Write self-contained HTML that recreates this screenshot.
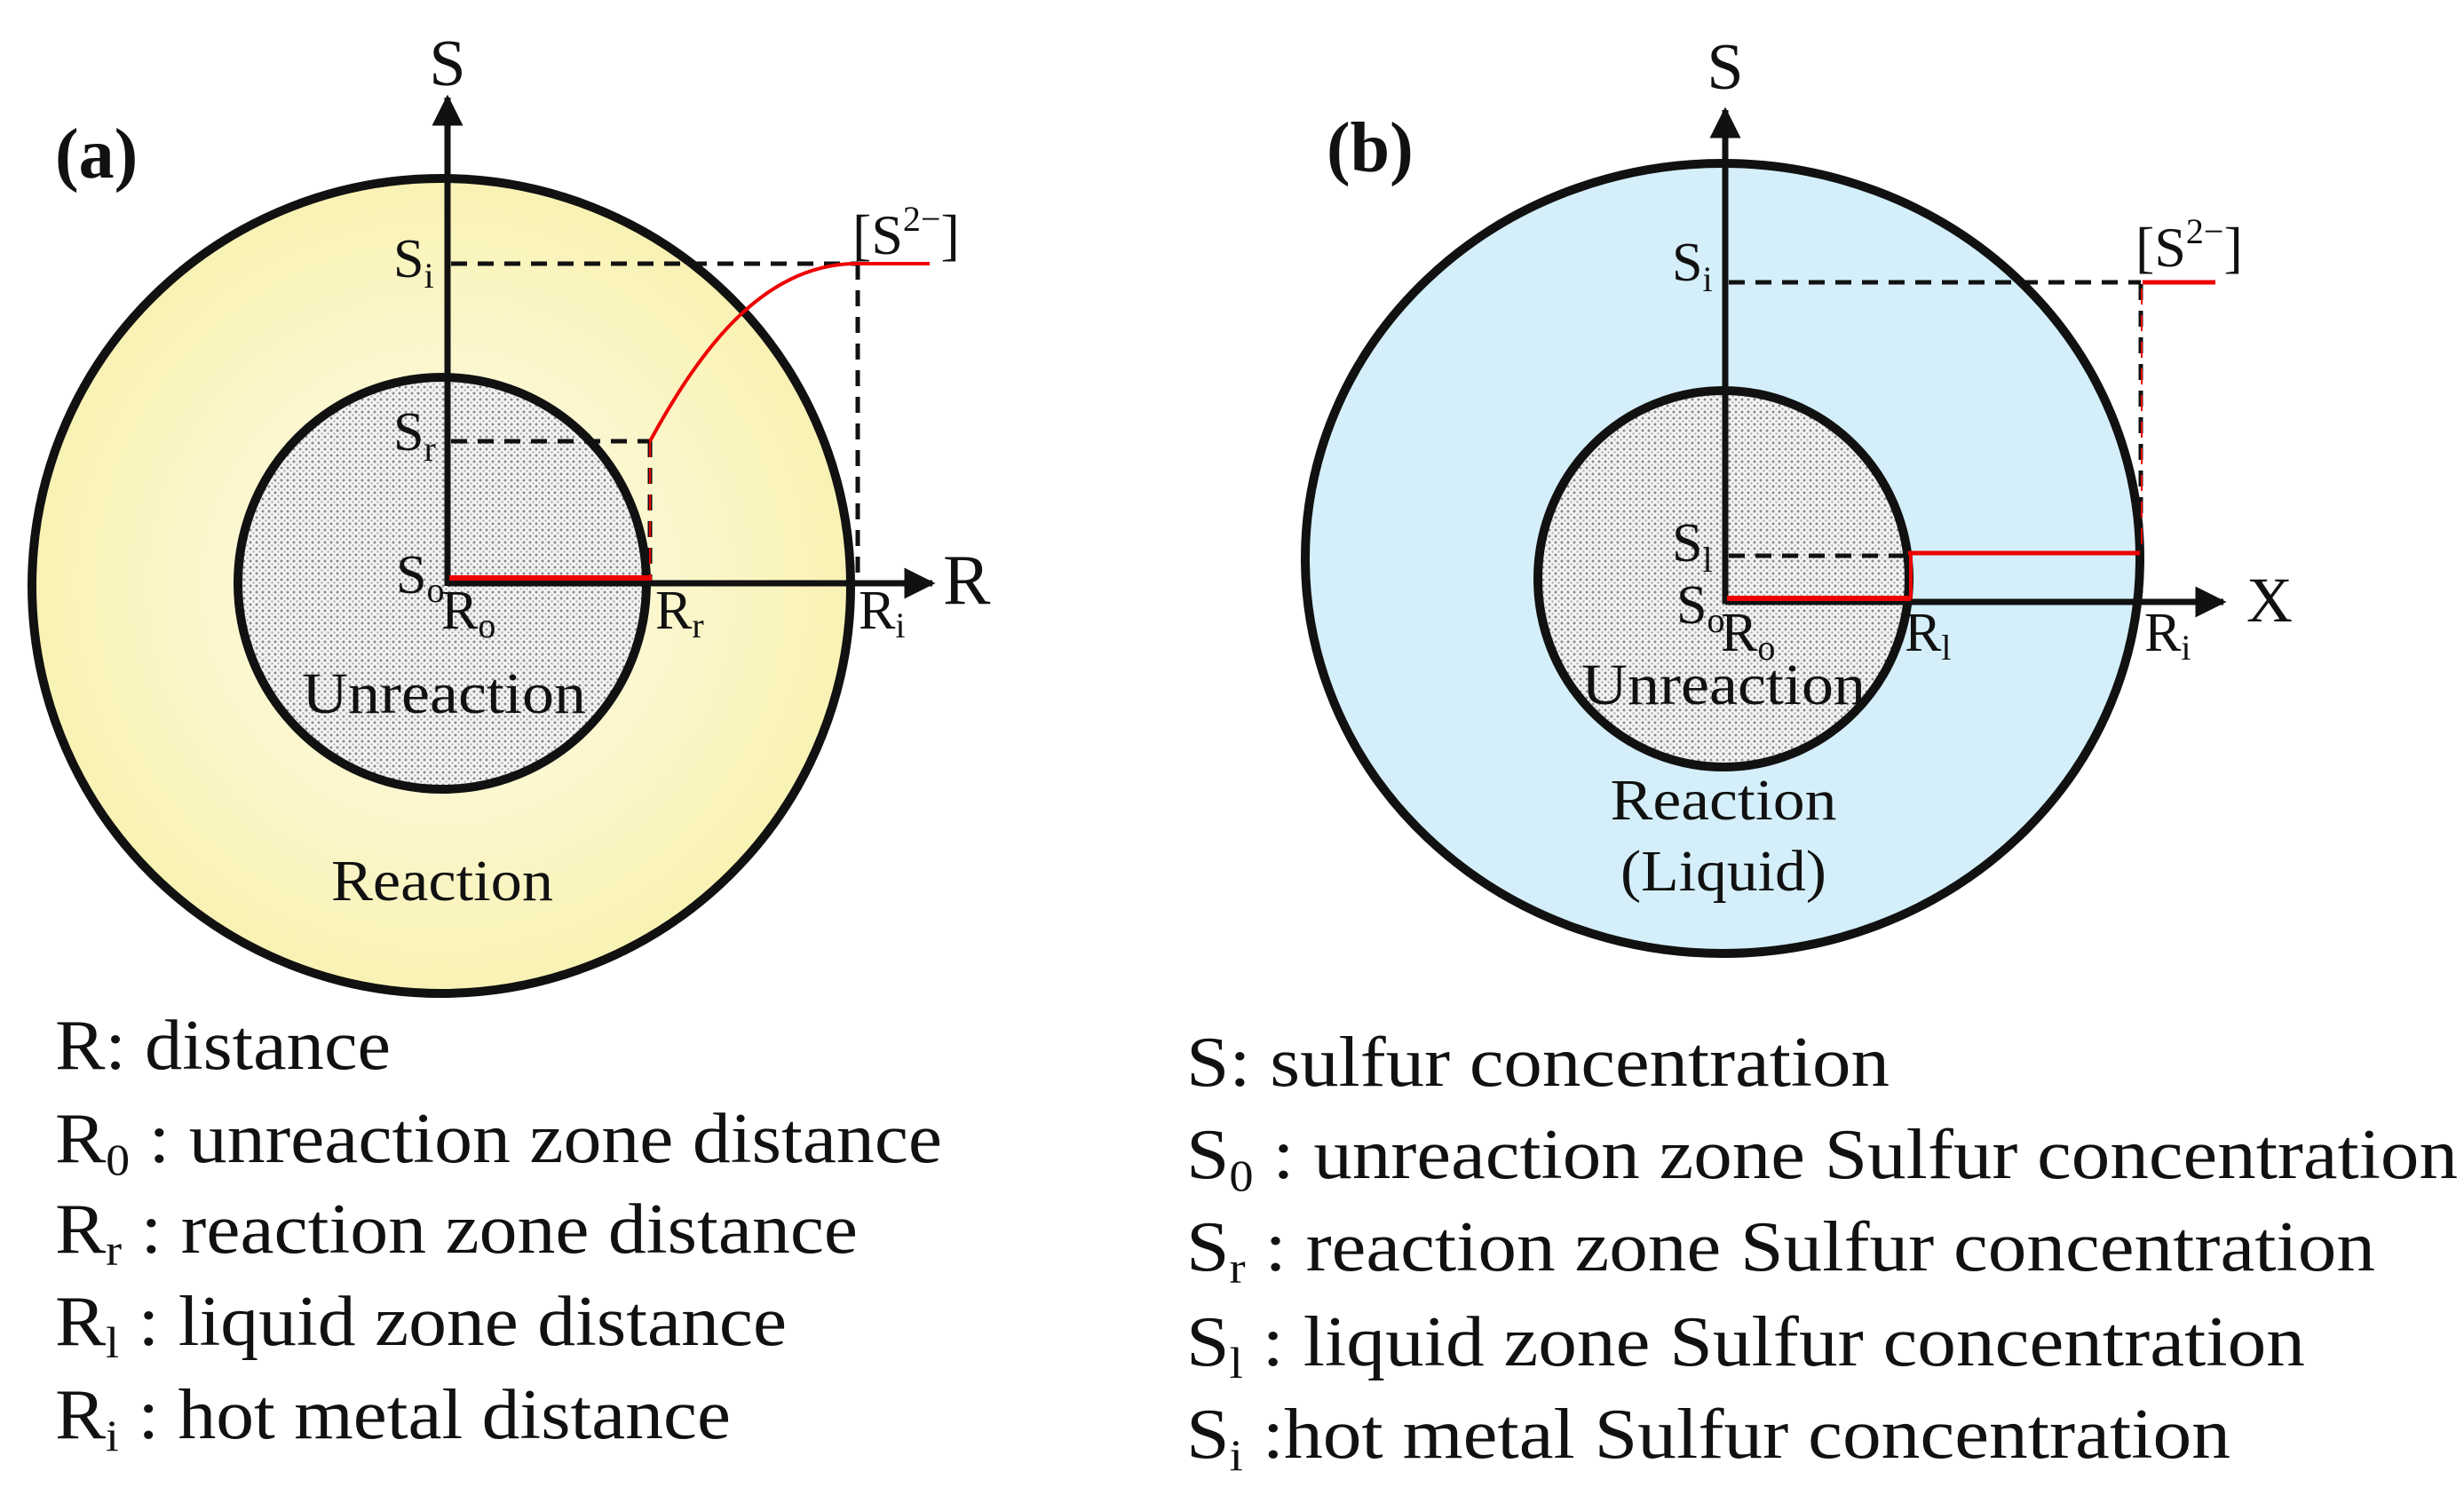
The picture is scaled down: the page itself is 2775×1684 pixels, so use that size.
<!DOCTYPE html>
<html><head><meta charset="utf-8"><style>
html,body{margin:0;padding:0;background:#fff;}
svg{display:block;}
text{font-family:"Liberation Serif",serif;fill:#111;}
</style></head><body>
<svg width="2775" height="1684" viewBox="0 0 2775 1684" xmlns="http://www.w3.org/2000/svg">
<defs>
<pattern id="dots" width="7" height="7" patternUnits="userSpaceOnUse">
<rect width="7" height="7" fill="#f4f4f4"/>
<circle cx="2" cy="2" r="1.5" fill="#8a8a8a"/>
<circle cx="5.5" cy="5.5" r="1.2" fill="#b0b0b0"/>
</pattern>
<radialGradient id="yel" cx="0.5" cy="0.5" r="0.5">
<stop offset="0" stop-color="#fefcec"/>
<stop offset="1" stop-color="#f9f2b4"/>
</radialGradient>
<marker id="ar" viewBox="0 0 10 10" refX="9" refY="5" markerWidth="5" markerHeight="5" orient="auto">
<path d="M0,0 L10,5 L0,10 z" fill="#111"/>
</marker>
</defs>

<!-- (a) -->
<ellipse cx="497" cy="660" rx="461" ry="459" fill="url(#yel)" stroke="#111" stroke-width="10"/>
<ellipse cx="498" cy="657" rx="230" ry="232" fill="url(#dots)" stroke="#111" stroke-width="10"/>
<line x1="504" y1="660" x2="504" y2="110" stroke="#111" stroke-width="7" marker-end="url(#ar)"/>
<line x1="504" y1="657" x2="1050" y2="657" stroke="#111" stroke-width="7" marker-end="url(#ar)"/>
<line x1="508" y1="297" x2="966" y2="297" stroke="#111" stroke-width="5" stroke-dasharray="18,12"/>
<line x1="966" y1="297" x2="966" y2="655" stroke="#111" stroke-width="5" stroke-dasharray="18,12"/>
<line x1="508" y1="497" x2="732" y2="497" stroke="#111" stroke-width="5" stroke-dasharray="18,12"/>
<line x1="732" y1="497" x2="732" y2="655" stroke="#111" stroke-width="5" stroke-dasharray="18,12"/>
<line x1="732" y1="497" x2="732" y2="652" stroke="#e00" stroke-width="2" stroke-dasharray="18,12"/>
<line x1="506" y1="651" x2="734" y2="651" stroke="#e00" stroke-width="6"/>
<path d="M732 497 C 790 390, 860 300, 960 297 L 1047 297" fill="none" stroke="#e00" stroke-width="4"/>
<text x="62" y="200" font-size="80" font-weight="bold">(a)</text>
<text x="504" y="96" font-size="74" text-anchor="middle">S</text>
<text x="1062" y="680" font-size="80">R</text>
<text x="960" y="286" font-size="64">[S<tspan font-size="40" dy="-26">2−</tspan><tspan dy="26">]</tspan></text>
<text x="443" y="312" font-size="62">S<tspan font-size="40" dy="12">i</tspan></text>
<text x="443" y="507" font-size="62">S<tspan font-size="40" dy="12">r</tspan></text>
<text x="446" y="668" font-size="62">S<tspan font-size="40" dy="10">o</tspan></text>
<text x="497" y="708" font-size="62">R<tspan font-size="40" dy="10">o</tspan></text>
<text x="738" y="708" font-size="62">R<tspan font-size="40" dy="10">r</tspan></text>
<text x="967" y="708" font-size="62">R<tspan font-size="40" dy="10">i</tspan></text>
<text x="500" y="803" font-size="66" text-anchor="middle" textLength="320" lengthAdjust="spacingAndGlyphs">Unreaction</text>
<text x="498" y="1014" font-size="66" text-anchor="middle" textLength="250" lengthAdjust="spacingAndGlyphs">Reaction</text>

<!-- (b) -->
<ellipse cx="1940" cy="629" rx="470" ry="445" fill="#d4effa" stroke="#111" stroke-width="10"/>
<ellipse cx="1941" cy="652" rx="209" ry="212" fill="url(#dots)" stroke="#111" stroke-width="10"/>
<line x1="1943" y1="680" x2="1943" y2="124" stroke="#111" stroke-width="7" marker-end="url(#ar)"/>
<line x1="1943" y1="678" x2="2504" y2="678" stroke="#111" stroke-width="7" marker-end="url(#ar)"/>
<line x1="1947" y1="318" x2="2411" y2="318" stroke="#111" stroke-width="5" stroke-dasharray="18,12"/>
<line x1="2411" y1="320" x2="2411" y2="676" stroke="#111" stroke-width="5" stroke-dasharray="18,12"/>
<line x1="2412" y1="325" x2="2412" y2="620" stroke="#e00" stroke-width="2" stroke-dasharray="18,12"/>
<line x1="2413" y1="318" x2="2495" y2="318" stroke="#e00" stroke-width="5"/>
<line x1="1947" y1="626" x2="2149" y2="626" stroke="#111" stroke-width="5" stroke-dasharray="18,12"/>
<line x1="2149" y1="623" x2="2410" y2="623" stroke="#e00" stroke-width="5"/>
<line x1="2152" y1="623" x2="2152" y2="675" stroke="#e00" stroke-width="4"/>
<line x1="1945" y1="674" x2="2152" y2="674" stroke="#e00" stroke-width="6"/>
<text x="1494" y="193" font-size="80" font-weight="bold">(b)</text>
<text x="1943" y="100" font-size="74" text-anchor="middle">S</text>
<text x="2530" y="700" font-size="72">X</text>
<text x="2405" y="300" font-size="64">[S<tspan font-size="40" dy="-26">2−</tspan><tspan dy="26">]</tspan></text>
<text x="1883" y="316" font-size="62">S<tspan font-size="40" dy="12">i</tspan></text>
<text x="1883" y="632" font-size="62">S<tspan font-size="40" dy="12">l</tspan></text>
<text x="1888" y="702" font-size="62">S<tspan font-size="40" dy="10">o</tspan></text>
<text x="1938" y="733" font-size="62">R<tspan font-size="40" dy="10">o</tspan></text>
<text x="2145" y="733" font-size="62">R<tspan font-size="40" dy="10">l</tspan></text>
<text x="2415" y="733" font-size="62">R<tspan font-size="40" dy="10">i</tspan></text>
<text x="1941" y="793" font-size="66" text-anchor="middle" textLength="320" lengthAdjust="spacingAndGlyphs">Unreaction</text>
<text x="1941" y="923" font-size="66" text-anchor="middle" textLength="255" lengthAdjust="spacingAndGlyphs">Reaction</text>
<text x="1941" y="1003" font-size="66" text-anchor="middle" textLength="232" lengthAdjust="spacingAndGlyphs">(Liquid)</text>

<!-- legend a -->
<g font-size="80">
<text x="62" y="1204" textLength="378" lengthAdjust="spacingAndGlyphs">R: distance</text>
<text x="62" y="1309" textLength="999" lengthAdjust="spacingAndGlyphs">R<tspan font-size="50" dy="14">0</tspan><tspan dy="-14"> : unreaction zone distance</tspan></text>
<text x="62" y="1411" textLength="904" lengthAdjust="spacingAndGlyphs">R<tspan font-size="50" dy="14">r</tspan><tspan dy="-14"> : reaction zone distance</tspan></text>
<text x="62" y="1515" textLength="824" lengthAdjust="spacingAndGlyphs">R<tspan font-size="50" dy="14">l</tspan><tspan dy="-14"> : liquid zone distance</tspan></text>
<text x="62" y="1620" textLength="761" lengthAdjust="spacingAndGlyphs">R<tspan font-size="50" dy="14">i</tspan><tspan dy="-14"> : hot metal distance</tspan></text>
</g>
<!-- legend b -->
<g font-size="80">
<text x="1336" y="1223" textLength="792" lengthAdjust="spacingAndGlyphs">S: sulfur concentration</text>
<text x="1336" y="1327" textLength="1432" lengthAdjust="spacingAndGlyphs">S<tspan font-size="50" dy="14">0</tspan><tspan dy="-14"> : unreaction zone Sulfur concentration</tspan></text>
<text x="1336" y="1431" textLength="1339" lengthAdjust="spacingAndGlyphs">S<tspan font-size="50" dy="14">r</tspan><tspan dy="-14"> : reaction zone Sulfur concentration</tspan></text>
<text x="1336" y="1538" textLength="1260" lengthAdjust="spacingAndGlyphs">S<tspan font-size="50" dy="14">l</tspan><tspan dy="-14"> : liquid zone Sulfur concentration</tspan></text>
<text x="1336" y="1642" textLength="1176" lengthAdjust="spacingAndGlyphs">S<tspan font-size="50" dy="14">i</tspan><tspan dy="-14"> :hot metal Sulfur concentration</tspan></text>
</g>
</svg>
</body></html>
